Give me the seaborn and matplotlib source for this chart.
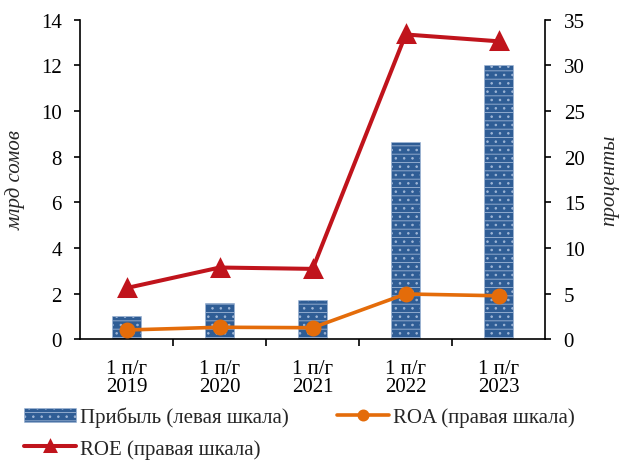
import matplotlib
matplotlib.use("Agg")
import matplotlib.pyplot as plt
import numpy as np
import pandas as pd
import seaborn as sns

# Data: bank profit (left axis, bn som) and ROA / ROE (right axis, %)
periods = ["1 п/г\n2019", "1 п/г\n2020", "1 п/г\n2021", "1 п/г\n2022", "1 п/г\n2023"]
profit = [1.0, 1.6, 1.7, 8.63, 12.02]
roa = [1.0, 1.3, 1.25, 4.95, 4.75]
roe = [5.6, 7.85, 7.7, 33.4, 32.65]

left_ticks = [0, 2, 4, 6, 8, 10, 12, 14]
right_ticks = [0, 5, 10, 15, 20, 25, 30, 35]

df = pd.DataFrame({"period": periods, "profit": profit, "roa": roa, "roe": roe})

sns.set_theme(style="white")
plt.rcParams["font.family"] = ["Liberation Serif", "DejaVu Serif"]
plt.rcParams["hatch.color"] = "#d9e3f1"
plt.rcParams["hatch.linewidth"] = 0.6

FS = 15
BAR = "#2f5d95"
ROA_C = "#e46c0a"
ROE_C = "#c0141c"

fig = plt.figure(figsize=(6.21, 4.64), dpi=100)
ax = fig.add_axes([0.129, 0.267, 0.749, 0.688])

sns.barplot(data=df, x="period", y="profit", color=BAR, width=0.31,
            saturation=1, ax=ax, label="Прибыль (левая шкала)")
for p in ax.patches:
    p.set_facecolor(BAR)
    p.set_edgecolor("#9fb6d6")
    p.set_linewidth(0.4)
    p.set_hatch("--..")

ax2 = ax.twinx()
sns.pointplot(data=df, x="period", y="roa", color=ROA_C, markers="o",
              errorbar=None, ax=ax2, markersize=9.5, linewidth=2.6,
              label="ROA (правая шкала)")
sns.pointplot(data=df, x="period", y="roe", color=ROE_C, markers="^",
              errorbar=None, ax=ax2, markersize=11, linewidth=2.9,
              label="ROE (правая шкала)")

ax.set_xlim(-0.5, len(periods) - 0.5)
ax.set_ylim(0, 14)
ax2.set_ylim(0, 35)
ax.set_yticks(left_ticks)
ax2.set_yticks(right_ticks)

ax.set_xlabel("")
ax.set_ylabel("млрд сомов", fontsize=FS, fontstyle="italic", labelpad=11)
ax2.set_ylabel("проценты", fontsize=FS, fontstyle="italic", labelpad=11)

for a in (ax, ax2):
    a.spines["top"].set_visible(False)
    for s in a.spines.values():
        s.set_color("black")
        s.set_linewidth(1.2)
    a.grid(False)

ax2.spines["left"].set_visible(False)
ax2.spines["bottom"].set_visible(False)
ax.spines["right"].set_visible(False)

ax.tick_params(axis="y", which="major", direction="out", length=4.3, width=1.2,
               colors="black", labelsize=FS, pad=9, left=True)
ax2.tick_params(axis="y", which="major", direction="out", length=4.3, width=1.2,
                colors="black", labelsize=FS, pad=9, right=True)
ax.tick_params(axis="x", which="major", length=0, labelsize=FS, pad=14,
               colors="black")
ax.set_xticks(np.arange(0.5, len(periods) - 1, 1.0), minor=True)
ax.tick_params(axis="x", which="minor", direction="out", length=5, width=1.2,
               colors="black", bottom=True)
for lbl in ax.get_xticklabels():
    lbl.set_linespacing(0.95)

if ax.legend_:
    ax.legend_.remove()
if ax2.legend_:
    ax2.legend_.remove()

h1, l1 = ax.get_legend_handles_labels()
h2, l2 = ax2.get_legend_handles_labels()
handles = [h1[0], h2[1], h2[0]]
labels = [l1[0], l2[1], l2[0]]
fig.legend(handles, labels, ncol=2, loc="upper left",
           bbox_to_anchor=(0.0386, 0.121), frameon=False, fontsize=FS,
           borderpad=0, borderaxespad=0, markerscale=0.7,
           handlelength=2.5, handletextpad=0.2, columnspacing=2.3,
           labelspacing=0.55)

fig.savefig("out.png", dpi=100)
